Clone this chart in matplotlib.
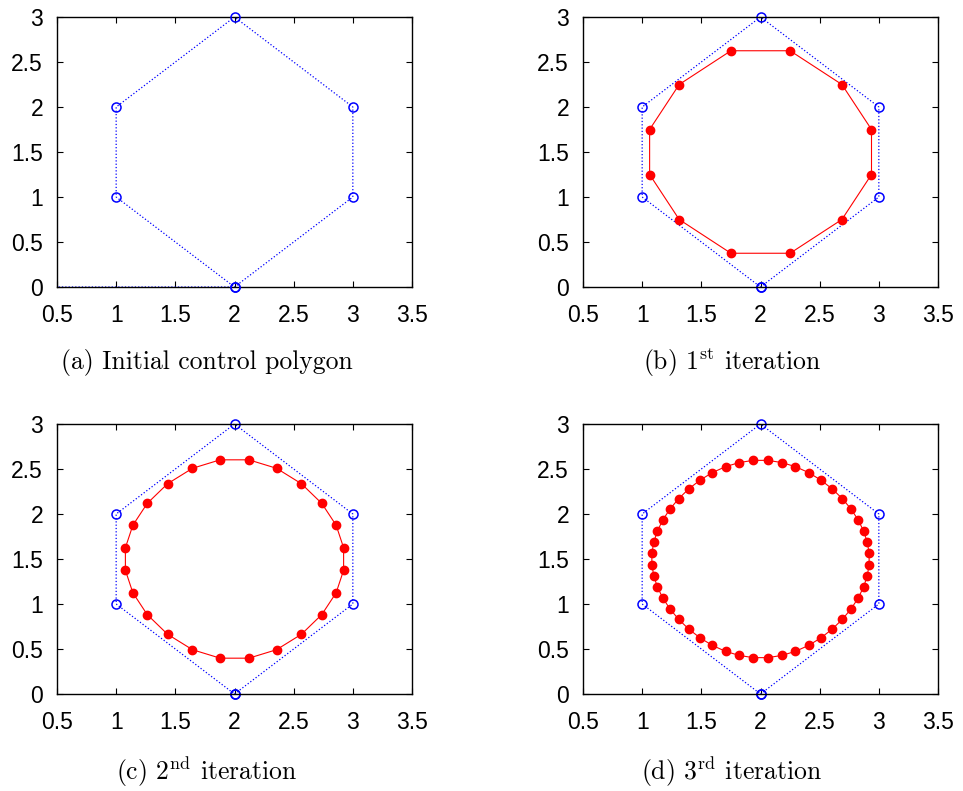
import matplotlib
matplotlib.use("Agg")
import matplotlib.pyplot as plt

plt.rcParams['mathtext.fontset'] = 'cm'
plt.rcParams['font.family'] = 'Liberation Sans'

# Polígono de control (en (a) aparece un tramo extra desde el origen)
ctrl_x = [2, 3, 3, 2, 1, 1, 2]
ctrl_y = [0, 1, 2, 3, 2, 1, 0]
ctrl_a_x = [0, 2, 3, 3, 2, 1, 1, 2]
ctrl_a_y = [0, 0, 1, 2, 3, 2, 1, 0]

# 1ª iteración (12 puntos)
it1_x = [1.75, 2.25, 2.688, 2.938, 2.938, 2.688, 2.25, 1.75, 1.313, 1.063, 1.063, 1.313]
it1_y = [0.375, 0.375, 0.75, 1.25, 1.75, 2.25, 2.625, 2.625, 2.25, 1.75, 1.25, 0.75]

# 2ª iteración (24 puntos)
it2_x = [1.645, 1.879, 2.121, 2.355, 2.566, 2.738, 2.859, 2.922,
         2.922, 2.859, 2.738, 2.566, 2.355, 2.121, 1.879, 1.645,
         1.434, 1.262, 1.141, 1.078, 1.078, 1.141, 1.262, 1.434]
it2_y = [0.492, 0.398, 0.398, 0.492, 0.664, 0.883, 1.125, 1.375,
         1.625, 1.875, 2.117, 2.336, 2.508, 2.602, 2.602, 2.508,
         2.336, 2.117, 1.875, 1.625, 1.375, 1.125, 0.883, 0.664]

# 3ª iteración (48 puntos)
it3_x = [1.593, 1.705, 1.821, 1.940, 2.060, 2.179, 2.295, 2.407,
         2.511, 2.607, 2.692, 2.765, 2.825, 2.871, 2.902, 2.918,
         2.918, 2.902, 2.871, 2.825, 2.765, 2.692, 2.607, 2.511,
         2.407, 2.295, 2.179, 2.060, 1.940, 1.821, 1.705, 1.593,
         1.489, 1.393, 1.308, 1.235, 1.175, 1.129, 1.098, 1.082,
         1.082, 1.098, 1.129, 1.175, 1.235, 1.308, 1.393, 1.489]
it3_y = [0.540, 0.474, 0.428, 0.404, 0.404, 0.428, 0.474, 0.540,
         0.624, 0.722, 0.830, 0.945, 1.065, 1.188, 1.313, 1.438,
         1.563, 1.688, 1.812, 1.935, 2.055, 2.170, 2.278, 2.376,
         2.460, 2.526, 2.572, 2.596, 2.596, 2.572, 2.526, 2.460,
         2.376, 2.278, 2.170, 2.055, 1.935, 1.812, 1.688, 1.563,
         1.438, 1.313, 1.188, 1.065, 0.945, 0.830, 0.722, 0.624]

captions = [r"(a) Initial control polygon",
            r"(b) 1$^{\mathrm{st}}$ iteration",
            r"(c) 2$^{\mathrm{nd}}$ iteration",
            r"(d) 3$^{\mathrm{rd}}$ iteration"]

fig = plt.figure(figsize=(9.63, 7.91), dpi=100)
W, H = 963, 791
cajas = [(57, 17), (583, 17), (57, 424), (583, 424)]
pos_caption = [(207, 363), (732, 363), (207, 772), (732, 772)]
iteraciones = [None, (it1_x, it1_y), (it2_x, it2_y), (it3_x, it3_y)]

for k, (x0, y0) in enumerate(cajas):
    ax = fig.add_axes([x0 / W, 1 - (y0 + 270) / H, 355 / W, 270 / H])
    if k == 0:
        ax.plot(ctrl_a_x, ctrl_a_y, ":", color="blue", lw=0.9, zorder=2)
        ax.plot(ctrl_x, ctrl_y, "o", color="blue", mfc="none", ms=6.5,
                mew=1.1, zorder=3, clip_on=False)
    else:
        ax.plot(ctrl_x, ctrl_y, ":", color="blue", lw=0.9, marker="o",
                mfc="none", ms=6.5, mew=1.1, zorder=2, clip_on=False)
        px, py = iteraciones[k]
        ax.plot(px + px[:1], py + py[:1], "-", color="red", lw=0.8, zorder=3)
        ax.plot(px, py, "o", color="red", ms=6, zorder=4)
    ax.set_xlim(0.5, 3.5)
    ax.set_ylim(0, 3)
    ax.set_xticks([0.5, 1, 1.5, 2, 2.5, 3, 3.5])
    ax.set_yticks([0, 0.5, 1, 1.5, 2, 2.5, 3])
    ax.set_xticklabels(["0.5", "1", "1.5", "2", "2.5", "3", "3.5"])
    ax.set_yticklabels(["0", "0.5", "1", "1.5", "2", "2.5", "3"])
    ax.tick_params(direction="in", length=4, width=0.8, top=True, right=True,
                   labelsize=16.5)
    ax.tick_params(axis="x", pad=12)
    ax.tick_params(axis="y", pad=10)
    for s in ax.spines.values():
        s.set_linewidth(1.0)
    cx, cy = pos_caption[k]
    fig.text(cx / W, 1 - cy / H, captions[k], ha="center", va="center",
             fontsize=18.5, family="cmr10")

fig.savefig("out.png", dpi=100)
